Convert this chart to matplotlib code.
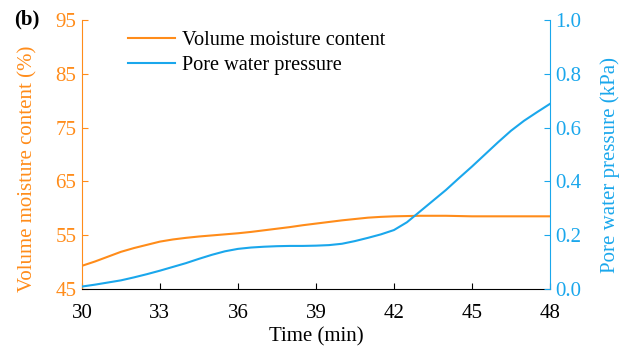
import matplotlib
matplotlib.use("Agg")
import matplotlib.pyplot as plt

plt.rcParams["font.family"] = ["Liberation Serif", "DejaVu Serif"]

# values
time_min = [30, 30.5, 31, 31.5, 32, 32.5, 33, 33.5, 34, 34.5, 35, 35.5, 36, 36.5,
            37, 37.5, 38, 38.5, 39, 39.5, 40, 40.5, 41, 41.5, 42, 42.5, 43, 43.5,
            44, 44.5, 45, 45.5, 46, 46.5, 47, 47.5, 48]
moisture = [49.3, 50.1, 51.0, 51.9, 52.6, 53.2, 53.8, 54.2, 54.5, 54.75, 54.95, 55.15,
            55.35, 55.6, 55.9, 56.2, 56.5, 56.85, 57.15, 57.45, 57.75, 58.0, 58.25,
            58.4, 58.5, 58.55, 58.6, 58.6, 58.6, 58.55, 58.5, 58.5, 58.5, 58.5,
            58.5, 58.5, 58.5]
pressure = [0.009, 0.016, 0.024, 0.032, 0.043, 0.055, 0.068, 0.082, 0.096, 0.112,
            0.127, 0.140, 0.149, 0.154, 0.157, 0.159, 0.160, 0.160, 0.161, 0.163,
            0.168, 0.178, 0.190, 0.203, 0.219, 0.248, 0.288, 0.328, 0.368, 0.412,
            0.455, 0.500, 0.545, 0.588, 0.625, 0.657, 0.688]

x_ticks = [30, 33, 36, 39, 42, 45, 48]
left_ticks = [45, 55, 65, 75, 85, 95]
right_ticks = [0.0, 0.2, 0.4, 0.6, 0.8, 1.0]

orange = "#FF8C1A"
blue = "#1AA7EC"

fig = plt.figure(figsize=(6.3, 3.49), dpi=100)
ax = fig.add_axes([0.130, 0.172, 0.743, 0.771])
ax2 = ax.twinx()

l1, = ax.plot(time_min, moisture, color=orange, lw=1.5, label="Volume moisture content")
l2, = ax2.plot(time_min, pressure, color=blue, lw=1.5, label="Pore water pressure")

ax.set_xlim(30, 48)
ax.set_ylim(45, 95)
ax2.set_ylim(0, 1.0)
ax.set_xticks(x_ticks)
ax.set_yticks(left_ticks)
ax2.set_yticks(right_ticks)
ax2.set_yticklabels([f"{v:.1f}" for v in right_ticks])

for a in (ax, ax2):
    a.spines["top"].set_visible(False)
ax.spines["right"].set_visible(False)
ax2.spines["left"].set_visible(False)
ax2.spines["bottom"].set_visible(False)
ax.spines["left"].set_color(orange)
ax2.spines["right"].set_color(blue)

ax.tick_params(axis="x", direction="in", labelsize=15, length=4, pad=11)
ax.tick_params(axis="y", direction="in", labelsize=15, length=4, colors=orange, pad=4)
ax2.tick_params(axis="y", direction="in", labelsize=15, length=4, colors=blue, pad=4)

ax.set_xlabel("Time (min)", fontsize=15, labelpad=3)
ax.set_ylabel("Volume moisture content (%)", fontsize=15, color=orange)
ax2.set_ylabel("Pore water pressure (kPa)", fontsize=15, color=blue)
ax.yaxis.set_label_coords(-0.094, 0.445)
ax2.yaxis.set_label_coords(1.107, 0.46)

ax.legend(handles=[l1, l2], loc="upper left", bbox_to_anchor=(0.081, 0.991),
          borderaxespad=0, frameon=False, fontsize=14.6, handlelength=2.3,
          handletextpad=0.36, labelspacing=0.3)

fig.text(0.022, 0.945, "(b)", fontsize=15, fontweight="bold", va="center")

fig.savefig("out.png", dpi=100)
